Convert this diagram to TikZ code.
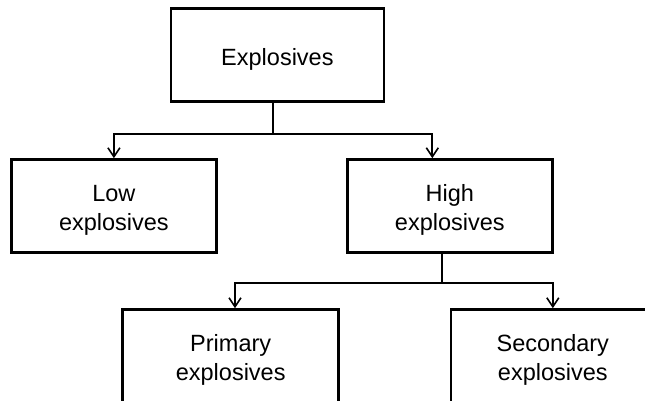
\documentclass[tikz,border=0pt]{standalone}
\usepackage{fontspec}
\setmainfont{Liberation Sans}
\usetikzlibrary{arrows.meta}
% a taller first line sets the text a little below the box centre
\newcommand\firstline{\rule{0pt}{25pt}}
\begin{document}
\begin{tikzpicture}[x=1pt,y=-1pt,
  box/.style={draw=black, line width=2.6pt, rectangle, inner sep=0pt,
    minimum height=93pt, align=center,
    font=\fontsize{23.5}{29.5}\selectfont},
  conn/.style={draw=black, line width=1.8pt,
    -{Straight Barb[length=9pt,width=12pt,line width=1.6pt]}}
]
\useasboundingbox (0,0) rectangle (645,400);
\clip (0,0) rectangle (645,400);

% boxes of the classification tree
\node[box, minimum width=213pt] (E) at (277.4,55) {\firstline Explosives};
\node[box, minimum width=205pt] (L) at (113.9,206) {\firstline Low\\explosives};
\node[box, minimum width=205pt] (H) at (449.8,206) {\firstline High\\explosives};
\node[box, minimum width=216pt] (P) at (230.7,356) {\firstline Primary\\explosives};
\node[box, minimum width=204pt] (S) at (552.8,356) {\firstline Secondary\\explosives};

% first level branches
\draw[conn] ([xshift=-4.7pt]E.south) -- ++(0,31) -| (L.north);
\draw[conn] ([xshift=-4.7pt]E.south) -- ++(0,31) -| ([xshift=-17.5pt]H.north);

% second level branches
\draw[conn] ([xshift=-8.1pt]H.south) -- ++(0,29) -| ([xshift=4.3pt]P.north);
\draw[conn] ([xshift=-8.1pt]H.south) -- ++(0,29) -| (S.north);
\end{tikzpicture}
\end{document}
